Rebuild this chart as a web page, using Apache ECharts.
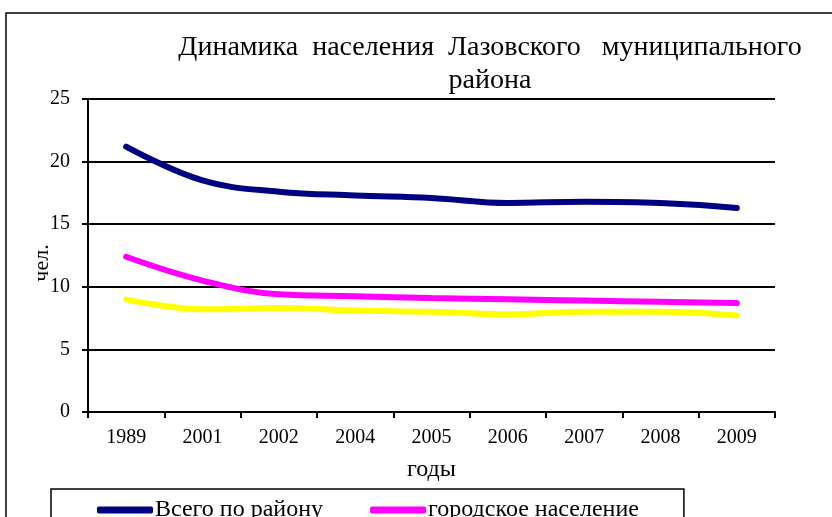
<!DOCTYPE html>
<html><head><meta charset="utf-8">
<script src="https://cdn.jsdelivr.net/npm/echarts@6/dist/echarts.min.js"></script>
<style>html,body{margin:0;padding:0;background:#fff}#c{width:832px;height:517px}</style>
</head><body><div id="c"></div>
<script>
const years = ['1989','2001','2002','2004','2005','2006','2007','2008','2009'];
const totalPop = [21.2, 18.5, 17.6, 17.3, 17.1, 16.7, 16.8, 16.7, 16.3];
const urbanPop = [12.4, 10.5, 9.4, 9.25, 9.1, 9.0, 8.9, 8.8, 8.7];
const ruralPop = [9.0, 8.2, 8.3, 8.1, 8.0, 7.8, 8.0, 8.0, 7.7];
const seriesNames = ['Всего по району', 'городское население', 'сельское население'];
const yTicks = [0, 5, 10, 15, 20, 25];
const yAxisTitle = 'чел.';

const font = '"Liberation Serif", "Times New Roman", serif';
const chart = echarts.init(document.getElementById('c'));
chart.setOption({
  animation: false,
  backgroundColor: '#fff',
  title: {
    text: 'Динамика  населения  Лазовского   муниципального\nрайона',
    left: 485, top: 26, textAlign: 'center',
    textStyle: { fontFamily: font, fontSize: 28, fontWeight: 'normal', color: '#000', lineHeight: 33 }
  },
  graphic: [{
    type: 'rect', shape: { x: 6, y: 13, width: 900, height: 600 },
    style: { fill: 'none', stroke: '#000', lineWidth: 1.5 }, z: -1
  }, {
    type: 'text', x: 42, y: 263, rotation: Math.PI / 2,
    style: { text: yAxisTitle, font: '22px ' + font, fill: '#000', align: 'center', verticalAlign: 'middle' }
  }],
  legend: {
    left: 51, top: 489, width: 640,
    padding: [9, 45, 9, 46],
    borderColor: '#000', borderWidth: 1.5,
    itemGap: 47, itemWidth: 56, itemHeight: 7,
    icon: 'roundRect',
    textStyle: { fontFamily: font, fontSize: 24, color: '#000', padding: [0, 0, 0, -3] },
    data: seriesNames
  },
  grid: { left: 88, right: 57, top: 99, bottom: 105 },
  xAxis: {
    type: 'category', data: years, boundaryGap: true,
    name: 'годы', nameLocation: 'middle', nameGap: 46,
    nameTextStyle: { fontFamily: font, fontSize: 24, color: '#000' },
    axisLine: { lineStyle: { color: '#000', width: 2 } },
    axisTick: { show: true, length: 6, lineStyle: { color: '#000', width: 2 } },
    axisLabel: { fontFamily: font, fontSize: 20, color: '#000', margin: 16 }
  },
  yAxis: {
    type: 'value', min: yTicks[0], max: yTicks[yTicks.length - 1], interval: 5,
    axisLine: { show: true, lineStyle: { color: '#000', width: 2 } },
    axisTick: { show: true, length: 6, inside: false, lineStyle: { color: '#000', width: 2 } },
    axisLabel: { fontFamily: font, fontSize: 20, color: '#000', margin: 18 },
    splitLine: { show: true, lineStyle: { color: '#000', width: 2 } }
  },
  series: [
    { name: seriesNames[0], type: 'line', data: totalPop, smooth: 0.4, showSymbol: false, color: '#000080',
      lineStyle: { width: 6, cap: 'round', color: '#000080' } },
    { name: seriesNames[1], type: 'line', data: urbanPop, smooth: 0.4, showSymbol: false, color: '#FF00FF',
      lineStyle: { width: 6, cap: 'round', color: '#FF00FF' } },
    { name: seriesNames[2], type: 'line', data: ruralPop, smooth: 0.4, showSymbol: false, color: '#FFFF00',
      lineStyle: { width: 6, cap: 'round', color: '#FFFF00' } }
  ]
});
</script></body></html>
